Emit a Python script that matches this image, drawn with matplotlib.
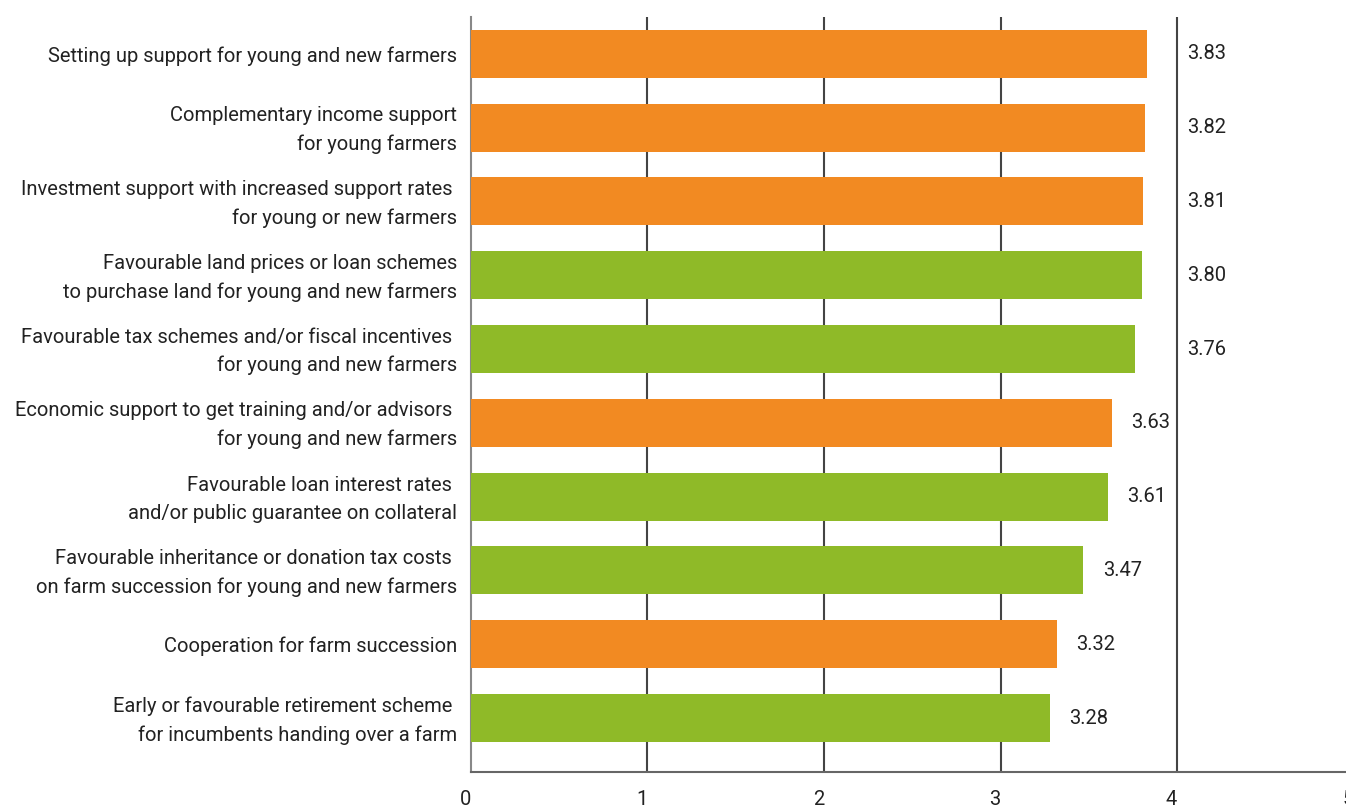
import matplotlib
matplotlib.use("Agg")
import matplotlib.pyplot as plt
from matplotlib.transforms import ScaledTranslation

# Measures supporting young and new farmers, mean score (0-5)
measures = [
    "Setting up support for young and new farmers",
    "Complementary income support\nfor young farmers",
    "Investment support with increased support rates \nfor young or new farmers",
    "Favourable land prices or loan schemes\nto purchase land for young and new farmers",
    "Favourable tax schemes and/or fiscal incentives \nfor young and new farmers",
    "Economic support to get training and/or advisors \nfor young and new farmers",
    "Favourable loan interest rates \nand/or public guarantee on collateral",
    "Favourable inheritance or donation tax costs \non farm succession for young and new farmers",
    "Cooperation for farm succession",
    "Early or favourable retirement scheme \nfor incumbents handing over a farm",
]
scores = [3.83, 3.82, 3.81, 3.80, 3.76, 3.63, 3.61, 3.47, 3.32, 3.28]
groups = ["orange", "orange", "orange", "green", "green",
          "orange", "green", "green", "orange", "green"]
x_ticks = [0, 1, 2, 3, 4, 5]

palette = {"orange": "#F28A22", "green": "#8FBA28"}
font = "Roboto"
fs = 14.5

fig = plt.figure(figsize=(13.46, 8.08), dpi=100)
ax = fig.add_axes([0.3499, 0.0446, 1.0056 - 0.3499, 0.979 - 0.0446])

ypos = list(range(len(measures)))
ax.barh(ypos, scores, height=0.65,
        color=[palette[g] for g in groups], zorder=3)

ax.set_xlim(0, 5)
ax.set_ylim(9.73, -0.5)

ax.set_xticks(x_ticks)
ax.set_xticklabels([str(t) for t in x_ticks], fontsize=fs, family=font,
                   color="#222222", ha="right")
ax.tick_params(axis="x", length=0, pad=13)
ax.set_yticks(ypos)
ax.set_yticklabels(measures, fontsize=fs, family=font, color="#222222",
                   linespacing=1.6)
ax.tick_params(axis="y", length=0, pad=10)

# two-line labels sit slightly above the bar centre
lift = ScaledTranslation(0, 3 / 72, fig.dpi_scale_trans)
for lab in ax.get_yticklabels():
    if "\n" in lab.get_text():
        lab.set_transform(lab.get_transform() + lift)

for x in x_ticks[1:]:
    ax.axvline(x, color="#444444", linewidth=1.5, zorder=1)

for side in ("top", "right"):
    ax.spines[side].set_visible(False)
ax.spines["left"].set_color("#888888")
ax.spines["left"].set_linewidth(1.5)
ax.spines["bottom"].set_color("#666666")
ax.spines["bottom"].set_linewidth(1.5)

# values whose label would cross the gridline at 4 sit just right of it
for y, v in zip(ypos, scores):
    xt = 4.06 if v >= 3.75 else v + 0.11
    ax.text(xt, y, f"{v:.2f}", va="center", ha="left",
            fontsize=fs, family=font, color="#222222")

fig.savefig("out.png", dpi=100)
